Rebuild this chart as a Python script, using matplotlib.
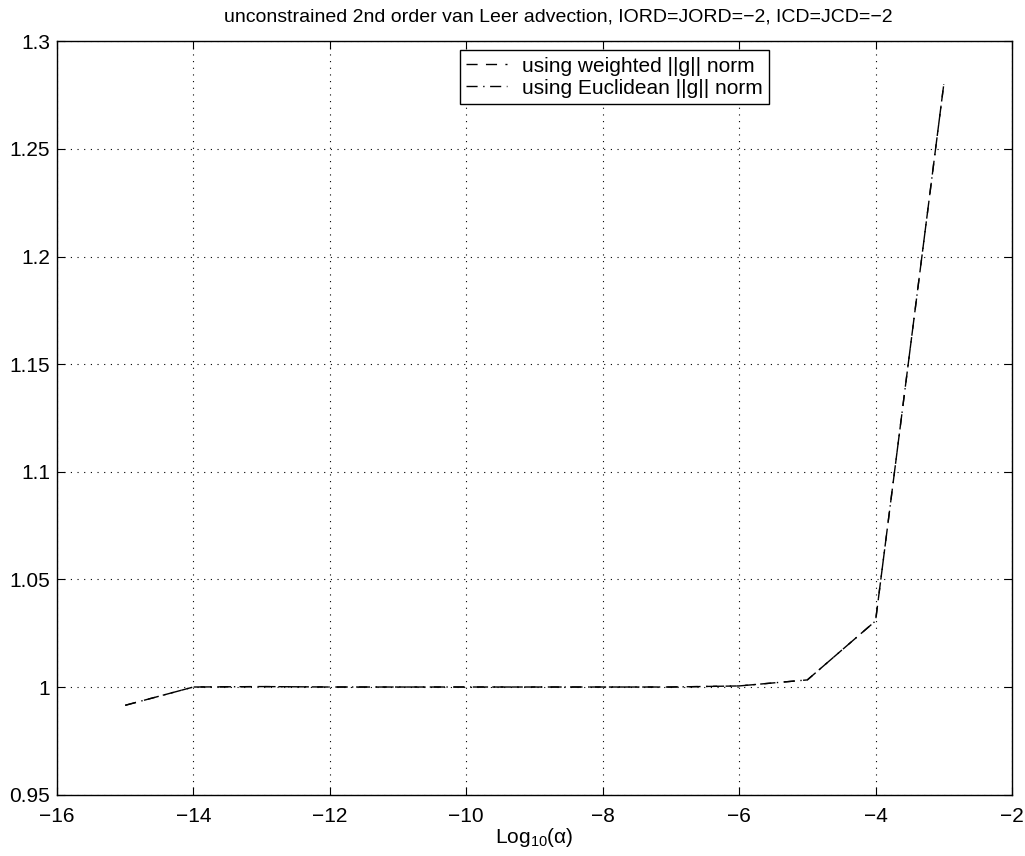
import numpy as np
import matplotlib.pyplot as plt

plt.rcParams['font.family'] = ['Liberation Sans', 'DejaVu Sans']
plt.rcParams['mathtext.fontset'] = 'custom'
plt.rcParams['mathtext.rm'] = 'Liberation Sans'
plt.rcParams['mathtext.it'] = 'Liberation Sans'

# data
log_alpha = [-15, -14, -13, -12, -11, -10, -9, -8, -7, -6, -5, -4, -3]
weighted = [0.9915, 1.0000, 1.0002, 1.0000, 1.0000, 1.0000, 1.0000, 1.0000, 1.0000, 1.0005, 1.0033, 1.0307, 1.2800]
euclid = [0.9915, 1.0000, 1.0002, 1.0000, 1.0000, 1.0000, 1.0000, 1.0000, 1.0000, 1.0005, 1.0033, 1.0307, 1.2800]

fig = plt.figure(figsize=(10.25, 8.56), dpi=100)
ax = fig.add_axes([0.0556, 0.0717, 0.9317, 0.88])

ax.plot(log_alpha, weighted, color='black', linestyle=(0, (8, 6)), linewidth=1.0,
        label='using weighted ||g|| norm')
ax.plot(log_alpha, euclid, color='black', linestyle=(0, (8, 4, 1, 4)), linewidth=1.0,
        label='using Euclidean ||g|| norm')

ax.set_xlim(-16, -2)
ax.set_ylim(0.95, 1.3)
ax.set_xticks(np.arange(-16, -1, 2))
ax.set_yticks([0.95, 1.0, 1.05, 1.1, 1.15, 1.2, 1.25, 1.3])
ax.set_xticklabels(['\u2212%d' % abs(v) for v in range(-16, -1, 2)])
ax.set_yticklabels(['0.95', '1', '1.05', '1.1', '1.15', '1.2', '1.25', '1.3'])
ax.grid(True, color='black', linestyle=(0, (1, 5)), linewidth=0.8)
ax.tick_params(direction='in', top=True, right=True, labelsize=15, length=6, width=0.8)
ax.tick_params(axis='x', pad=9)
ax.tick_params(axis='y', pad=5)
for s in ax.spines.values():
    s.set_linewidth(1.0)

ax.set_xlabel(r'Log$_{10}$($\alpha$)', fontsize=15, labelpad=0)
ax.set_title('unconstrained 2nd order van Leer advection, IORD=JORD=\u22122, ICD=JCD=\u22122',
             fontsize=14, pad=14, x=0.525)

leg = ax.legend(loc='upper left', bbox_to_anchor=(0.4215, 0.988), fontsize=15,
                fancybox=False, edgecolor='black', framealpha=1, borderpad=0.3,
                labelspacing=0.15, handlelength=2.0, handletextpad=0.7, borderaxespad=0)
leg.get_frame().set_linewidth(1.0)

fig.savefig('out.png', dpi=100)
